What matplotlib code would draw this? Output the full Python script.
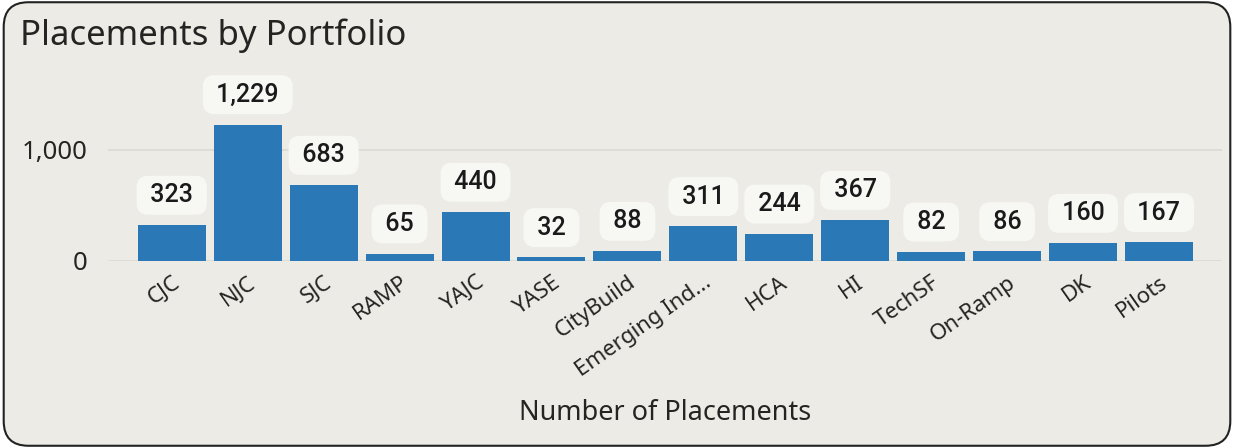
import matplotlib
matplotlib.use("Agg")
import matplotlib.pyplot as plt
from matplotlib.patches import FancyBboxPatch

portfolios = ["CJC", "NJC", "SJC", "RAMP", "YAJC", "YASE", "CityBuild",
              "Emerging Ind...", "HCA", "HI", "TechSF", "On-Ramp", "DK", "Pilots"]
placements = [323, 1229, 683, 65, 440, 32, 88, 311, 244, 367, 82, 86, 160, 167]

bg = "#ECEBE5"
bar_color = "#2A79B6"
plt.rcParams["font.family"] = ["Noto Sans", "DejaVu Sans"]

fig = plt.figure(figsize=(12.34, 4.48), dpi=100)
fig.patch.set_facecolor("white")
frame = FancyBboxPatch((0.003, 0.005), 0.994, 0.99, boxstyle="round,pad=0,rounding_size=0.02",
                       transform=fig.transFigure, facecolor=bg, edgecolor="#222222",
                       linewidth=1.5, mutation_aspect=1234 / 448, zorder=-5)
fig.patches.append(frame)

W, H = 1234, 448
ax = fig.add_axes([108 / W, (H - 261) / H, (1222 - 108) / W, (261 - 95) / H])
ax.set_facecolor("none")

x = list(range(len(portfolios)))
ax.bar(x, placements, width=0.895, color=bar_color, zorder=2)
ax.set_xlim(-0.84, 13.83)
ax.set_ylim(0, 1495)
ax.set_yticks([0, 1000])
ax.set_yticklabels(["0", "1,000"], fontsize=18.5, color="#252423")
ax.yaxis.grid(True, color="#DCDBD2", linewidth=1.2, zorder=0)
ax.set_xticks(x)
ax.set_xticklabels(portfolios, rotation=35, ha="right", rotation_mode="anchor",
                   fontsize=16, color="#252423")
ax.tick_params(length=0, pad=8)
ax.tick_params(axis="y", pad=15)
for s in ax.spines.values():
    s.set_visible(False)

for xi, v in zip(x, placements):
    ax.annotate(f" {v:,} ", (xi, v), xytext=(0, 21.5), textcoords="offset points",
                ha="center", va="center", fontsize=18, color="#1a1a1a",
                family=["Roboto", "DejaVu Sans"], fontweight="medium",
                bbox=dict(boxstyle="round,pad=0.3,rounding_size=0.45",
                          facecolor="#F7F7F3", edgecolor="none"),
                annotation_clip=False, zorder=3)

fig.text(20 / W, 1 - 36 / H, "Placements by Portfolio", fontsize=25,
         va="center", ha="left", color="#252423")
fig.text(665 / W, 1 - 413 / H, "Number of Placements", fontsize=19.5,
         va="center", ha="center", color="#252423")

fig.savefig("out.png", dpi=100, facecolor=fig.get_facecolor())
